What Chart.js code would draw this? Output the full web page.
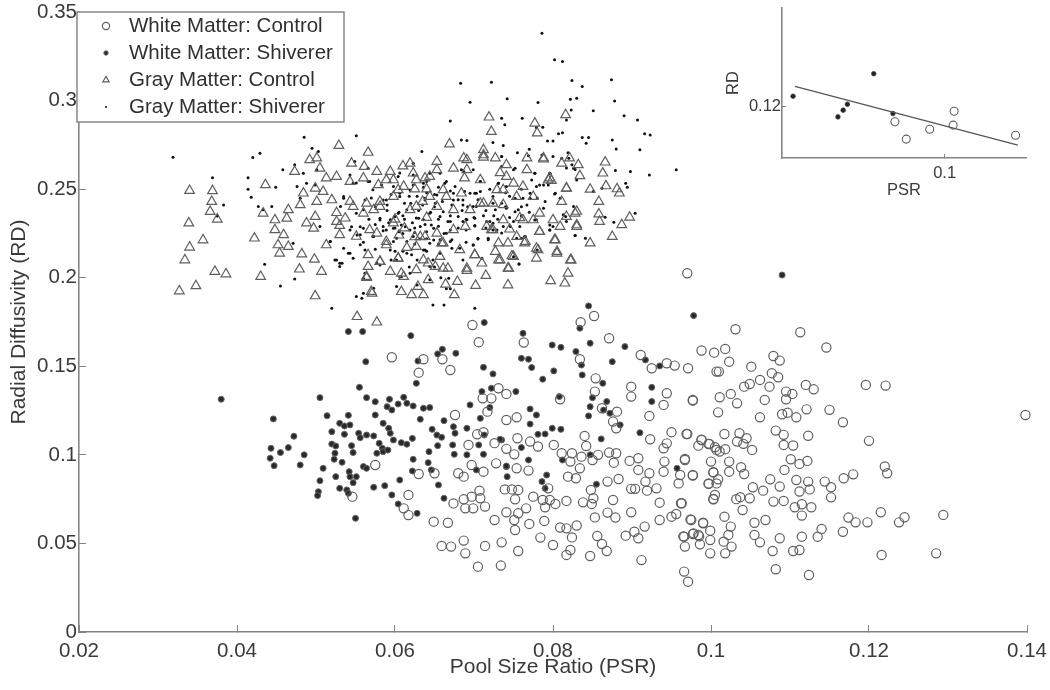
<!DOCTYPE html>
<html><head><meta charset="utf-8">
<script src="https://cdn.jsdelivr.net/npm/chart.js@4/dist/chart.umd.js"></script>
<style>
html,body{margin:0;padding:0;background:#fff;width:1050px;height:690px;overflow:hidden}
canvas{position:absolute;filter:blur(.6px)}
</style></head><body>
<canvas id="main" width="1050" height="690" style="left:0;top:0"></canvas>
<canvas id="inset" width="330" height="210" style="left:720px;top:0"></canvas>
<script>
const seriesNames=["White Matter: Control","White Matter: Shiverer","Gray Matter: Control","Gray Matter: Shiverer"];
const xTicks=[0.02,0.04,0.06,0.08,0.1,0.12,0.14];
const yTicks=[0,0.05,0.1,0.15,0.2,0.25,0.3,0.35];
const whiteControl=[[.0852,.1784],[.0835,.1749],[.0698,.1733],[.0706,.1636],[.0763,.1634],[.0871,.1658],[.0636,.1540],[.0660,.1540],[.0670,.1479],[.0630,.1464],[.0988,.1589],[.1004,.1577],[.0911,.1564],[.0944,.1517],[.0954,.1504],[.0925,.1489],[.0971,.1489],[.0834,.1540],[.1007,.1470],[.0854,.1432],[.0899,.1385],[.0899,.1329],[.0853,.1357],[.0731,.1376],[.0741,.1344],[.0711,.1319],[.0722,.1319],[.0944,.1348],[.0940,.1282],[.0977,.1310],[.0809,.1314],[.0862,.1263],[.0881,.1244],[.0922,.1220],[.0876,.1188],[.0880,.1150],[.0676,.1225],[.0717,.1244],[.0741,.1197],[.0754,.1212],[.0712,.1128],[.0704,.1116],[.0693,.1056],[.0726,.1066],[.0741,.1034],[.0751,.1003],[.0755,.1094],[.0771,.1075],[.0781,.1047],[.0801,.1056],[.0840,.1107],[.0842,.1050],[.0811,.1009],[.0824,.1009],[.0822,.0962],[.0836,.0990],[.0850,.0971],[.0857,.1000],[.0871,.1013],[.0880,.1009],[.0877,.0956],[.0897,.0966],[.0908,.0981],[.0908,.0915],[.0922,.0896],[.0917,.0849],[.0899,.0808],[.0904,.0808],[.0919,.0798],[.0931,.0811],[.0941,.0962],[.0940,.0905],[.0950,.1128],[.0969,.1118],[.0944,.1065],[.0940,.1037],[.0923,.1088],[.0967,.0977],[.0961,.0886],[.0959,.0839],[.0977,.0886],[.0988,.1084],[.0984,.1052],[.0997,.1061],[.1007,.1028],[.1000,.0962],[.1003,.0901],[.0997,.0839],[.1007,.0839],[.1003,.0749],[.0935,.0730],[.0962,.0727],[.0935,.0632],[.0950,.0651],[.0956,.0666],[.0975,.0632],[.0990,.0617],[.0999,.0572],[.0965,.0540],[.0978,.0557],[.0985,.0540],[.0967,.0482],[.0986,.0495],[.0999,.0519],[.0999,.0444],[.0966,.0341],[.0971,.0284],[.0912,.0406],[.0892,.0544],[.0903,.0566],[.0908,.0529],[.0916,.0595],[.0899,.0676],[.0876,.0745],[.0869,.0674],[.0879,.0646],[.0853,.0647],[.0849,.0723],[.0838,.0732],[.0851,.0755],[.0848,.0802],[.0869,.0849],[.0883,.0864],[.0819,.0877],[.0829,.0868],[.0834,.0924],[.0817,.0740],[.0803,.0723],[.0796,.0745],[.0787,.0745],[.0790,.0704],[.0775,.0764],[.0766,.0698],[.0756,.0670],[.0741,.0676],[.0751,.0632],[.0770,.0610],[.0789,.0627],[.0752,.0576],[.0726,.0632],[.0809,.0590],[.0830,.0601],[.0817,.0585],[.0824,.0534],[.0784,.0533],[.0800,.0491],[.0856,.0542],[.0862,.0497],[.0868,.0457],[.0847,.0429],[.0817,.0435],[.0822,.0463],[.0756,.0457],[.0735,.0506],[.0714,.0486],[.0687,.0516],[.0689,.0444],[.0671,.0482],[.0659,.0486],[.0705,.0369],[.0734,.0375],[.0667,.0617],[.0649,.0623],[.0617,.0774],[.0617,.0660],[.0611,.0698],[.0674,.0726],[.0687,.0749],[.0689,.0698],[.0697,.0764],[.0707,.0798],[.0708,.0755],[.0714,.0708],[.0699,.0698],[.0680,.0896],[.0687,.0877],[.0630,.0892],[.0650,.0896],[.0697,.0943],[.0712,.0905],[.0728,.0952],[.0754,.0924],[.0769,.0911],[.0739,.0805],[.0748,.0805],[.0756,.0802],[.0752,.0749],[.0794,.0811],[.0970,.2025],[.1031,.1709],[.1113,.1692],[.1146,.1606],[.1018,.1598],[.1023,.1526],[.1010,.1470],[.1051,.1498],[.1079,.1558],[.1087,.1532],[.1077,.1461],[.1085,.1438],[.1062,.1423],[.1049,.1400],[.1042,.1385],[.1074,.1385],[.1120,.1395],[.1130,.1370],[.1196,.1395],[.1221,.1391],[.1011,.1325],[.1025,.1344],[.1033,.1291],[.0977,.1306],[.1068,.1310],[.1095,.1357],[.1103,.1344],[.1095,.1314],[.1009,.1240],[.1062,.1212],[.1090,.1229],[.1097,.1238],[.1108,.1212],[.1121,.1257],[.1150,.1254],[.1167,.1184],[.1398,.1225],[.0970,.1118],[.1017,.1118],[.1036,.1122],[.1033,.1075],[.1045,.1094],[.1041,.1062],[.1052,.1028],[.1082,.1137],[.1092,.1113],[.1092,.1056],[.1104,.1053],[.1123,.1108],[.1200,.1079],[.0988,.1085],[.0998,.1062],[.1005,.1043],[.1011,.1019],[.1018,.1032],[.0967,.0971],[.1023,.0962],[.1038,.0930],[.1042,.0892],[.1023,.0905],[.1003,.0902],[.0977,.0883],[.1009,.0862],[.0997,.0836],[.1101,.0975],[.1112,.0949],[.1122,.0966],[.1093,.0915],[.1220,.0934],[.1223,.0896],[.1180,.0890],[.1168,.0868],[.1144,.0849],[.1152,.0817],[.1152,.0760],[.1123,.0849],[.1125,.0805],[.1112,.0793],[.1108,.0858],[.1087,.0821],[.1075,.0862],[.1066,.0798],[.1053,.0817],[.1049,.0755],[.1037,.0761],[.1032,.0750],[.1040,.0689],[.1003,.0751],[.1005,.0774],[.0963,.0727],[.1079,.0736],[.1092,.0740],[.1106,.0704],[.1115,.0721],[.1127,.0704],[.1115,.0657],[.1017,.0651],[.0974,.0636],[.0990,.0614],[.0977,.0553],[.0984,.0548],[.0966,.0538],[.1018,.0444],[.1026,.0482],[.1016,.0510],[.1022,.0548],[.1025,.0595],[.1055,.0617],[.1069,.0632],[.1055,.0548],[.1062,.0506],[.1087,.0529],[.1115,.0538],[.1078,.0457],[.1104,.0457],[.1112,.0463],[.1082,.0354],[.1124,.0322],[.1140,.0582],[.1135,.0538],[.1167,.0566],[.1174,.0646],[.1183,.0619],[.1198,.0619],[.1215,.0676],[.1238,.0619],[.1245,.0648],[.1294,.0661],[.1216,.0435],[.1285,.0444],[.0596,.1551],[.0546,.0764],[.0575,.0943]];
const whiteShiverer=[[.0380,.1314],[.0446,.1203],[.0472,.1105],[.0443,.1037],[.0455,.1013],[.0465,.1041],[.0442,.0981],[.0447,.0939],[.0485,.1000],[.0480,.0943],[.0505,.1323],[.0514,.1221],[.0541,.1223],[.0530,.1178],[.0536,.1163],[.0543,.1169],[.0520,.1131],[.0536,.1116],[.0554,.1122],[.0556,.1097],[.0564,.1112],[.0573,.1107],[.0580,.1065],[.0584,.1037],[.0520,.1061],[.0525,.1050],[.0545,.1052],[.0524,.1009],[.0547,.1013],[.0523,.0975],[.0533,.0958],[.0577,.1009],[.0585,.1018],[.0591,.1027],[.0509,.0924],[.0505,.0854],[.0503,.0792],[.0502,.0770],[.0525,.0877],[.0542,.0905],[.0560,.0934],[.0564,.0924],[.0543,.0877],[.0551,.0877],[.0547,.0843],[.0530,.0811],[.0539,.0802],[.0541,.0783],[.0550,.0642],[.0555,.1381],[.0564,.1323],[.0575,.1300],[.0593,.1314],[.0590,.1272],[.0596,.1253],[.0604,.1287],[.0611,.1325],[.0615,.1291],[.0623,.1276],[.0636,.1263],[.0644,.1267],[.0575,.1225],[.0632,.1201],[.0585,.1178],[.0592,.1150],[.0594,.1122],[.0598,.1084],[.0608,.1069],[.0615,.1060],[.0622,.1093],[.0541,.1696],[.0559,.1696],[.0620,.1673],[.0563,.1526],[.0629,.1530],[.0627,.1404],[.0654,.1570],[.0660,.1596],[.0677,.1573],[.0713,.1747],[.0712,.1494],[.0724,.1457],[.0695,.1282],[.0662,.1193],[.0708,.1206],[.0720,.1267],[.0710,.1357],[.0722,.1376],[.0753,.1357],[.0647,.1144],[.0653,.1112],[.0659,.1099],[.0654,.1052],[.0643,.1018],[.0642,.0956],[.0623,.0975],[.0622,.0909],[.0646,.0915],[.0655,.0830],[.0606,.0858],[.0587,.0826],[.0573,.0817],[.0596,.0774],[.0604,.0723],[.0628,.0670],[.0662,.0755],[.0673,.1056],[.0674,.1159],[.0676,.1122],[.0675,.1003],[.0691,.1150],[.0691,.1000],[.0706,.1056],[.0712,.1003],[.0703,.0915],[.0713,.1112],[.0735,.1084],[.0741,.0933],[.0845,.1841],[.0978,.1786],[.0834,.1715],[.0762,.1686],[.0799,.1620],[.0810,.1607],[.0847,.1630],[.0891,.1611],[.0829,.1583],[.0760,.1545],[.0769,.1540],[.0875,.1526],[.0917,.1536],[.0935,.1502],[.0773,.1493],[.0836,.1507],[.0801,.1474],[.0837,.1451],[.0787,.1427],[.0863,.1404],[.0925,.1381],[.0925,.1301],[.0808,.1329],[.0850,.1323],[.0847,.1272],[.0868,.1301],[.0864,.1253],[.0872,.1235],[.0845,.1220],[.0885,.1169],[.0771,.1259],[.0779,.1225],[.0771,.1174],[.0799,.1150],[.0810,.1144],[.0790,.1118],[.0781,.1116],[.0910,.1125],[.0861,.1090],[.0733,.1088],[.0760,.1041],[.0769,.0971],[.0812,.0971],[.0847,.1000],[.0741,.0937],[.0742,.0877],[.0792,.0886],[.0786,.0849],[.0790,.0811],[.0855,.0834],[.0957,.0924],[.1090,.2015]];
const grayControl=[[.0340,.2492],[.0369,.2490],[.0368,.2430],[.0366,.2373],[.0375,.2330],[.0339,.2308],[.0357,.2213],[.0340,.2172],[.0334,.2100],[.0372,.2035],[.0386,.2021],[.0348,.1954],[.0327,.1925],[.0436,.2524],[.0422,.2223],[.0430,.2006],[.0499,.1897],[.0529,.2746],[.0566,.2707],[.0492,.2665],[.0501,.2675],[.0505,.2618],[.0513,.2562],[.0473,.2599],[.0484,.2477],[.0499,.2505],[.0509,.2486],[.0501,.2430],[.0480,.2411],[.0465,.2383],[.0433,.2364],[.0448,.2326],[.0463,.2335],[.0448,.2270],[.0459,.2242],[.0452,.2185],[.0465,.2176],[.0454,.2138],[.0482,.2134],[.0498,.2104],[.0479,.2048],[.0507,.2035],[.0488,.2308],[.0499,.2345],[.0497,.2279],[.0513,.2185],[.0526,.2317],[.0537,.2336],[.0520,.2439],[.0545,.2646],[.0543,.2543],[.0561,.2627],[.0577,.2599],[.0594,.2599],[.0598,.2552],[.0579,.2524],[.0547,.2402],[.0530,.2242],[.0551,.2233],[.0566,.2129],[.0581,.2091],[.0604,.2110],[.0564,.2006],[.0571,.1912],[.0608,.1921],[.0621,.1903],[.0594,.2035],[.0611,.2006],[.0589,.2185],[.0573,.2383],[.0564,.2420],[.0581,.2430],[.0598,.2308],[.0577,.2251],[.0611,.2515],[.0598,.2458],[.0619,.2646],[.0623,.2590],[.0627,.2402],[.0627,.2176],[.0552,.1780],[.0577,.1749],[.0719,.2906],[.0722,.2825],[.0669,.2754],[.0777,.2872],[.0780,.2816],[.0816,.2919],[.0712,.2722],[.0712,.2680],[.0727,.2675],[.0653,.2656],[.0687,.2675],[.0767,.2675],[.0788,.2669],[.0821,.2675],[.0866,.2652],[.0863,.2590],[.0834,.2575],[.0798,.2548],[.0817,.2505],[.0847,.2499],[.0867,.2518],[.0881,.2501],[.0884,.2477],[.0858,.2430],[.0811,.2430],[.0830,.2374],[.0858,.2359],[.0859,.2317],[.0887,.2299],[.0897,.2341],[.0875,.2232],[.0847,.2195],[.0802,.2214],[.0783,.2260],[.0805,.2138],[.0823,.2100],[.0779,.2166],[.0779,.2110],[.0819,.2025],[.0797,.1982],[.0815,.1969],[.0743,.1959],[.0744,.2053],[.0715,.2012],[.0702,.1956],[.0675,.1903],[.0679,.1978],[.0664,.1963],[.0691,.2040],[.0667,.2053],[.0651,.2063],[.0731,.2100],[.0750,.2119],[.0701,.2129],[.0710,.2082],[.0636,.2100],[.0636,.1903],[.0642,.1988],[.0657,.2119],[.0682,.2157],[.0731,.2195],[.0743,.2195],[.0722,.2270],[.0689,.2289],[.0674,.2270],[.0653,.2251],[.0638,.2232],[.0661,.2195],[.0764,.2195],[.0754,.2232],[.0809,.2289],[.0817,.2345],[.0800,.2326],[.0830,.2289],[.0783,.2364],[.0758,.2338],[.0737,.2411],[.0712,.2420],[.0684,.2477],[.0665,.2458],[.0644,.2458],[.0638,.2562],[.0653,.2609],[.0674,.2618],[.0691,.2609],[.0708,.2552],[.0733,.2592],[.0750,.2533],[.0767,.2609],[.0794,.2552],[.0754,.2458],[.0729,.2496],[.0775,.2458],[.0741,.2571],[.0811,.2646],[.0674,.2383],[.0695,.2383],[.0653,.2402],[.0737,.2326],[.0716,.2289],[.0775,.2326],[.0600,.2330],[.0612,.2280],[.0625,.2230],[.0605,.2240],[.0615,.2170],[.0640,.2340],[.0635,.2430],[.0625,.2500],[.0640,.2500],[.0610,.2630],[.0712,.2693],[.0741,.2637],[.0788,.2675],[.0832,.2637],[.0817,.2505],[.0796,.2562],[.0762,.2515],[.0724,.2420],[.0737,.2496],[.0691,.2665],[.0688,.2562],[.0708,.2420],[.0828,.2364],[.0830,.2298],[.0783,.2260],[.0803,.2213],[.0765,.2204],[.0724,.2270],[.0745,.2274],[.0762,.2326],[.0727,.2148],[.0748,.2123],[.0701,.2129],[.0733,.2100],[.0781,.2157],[.0805,.2148],[.0822,.2100],[.0743,.2053],[.0691,.2053],[.0526,.2367],[.0530,.2294],[.0581,.2402],[.0560,.2364],[.0619,.2383],[.0661,.2496],[.0543,.2430],[.0568,.2270],[.0589,.2204],[.0632,.2231],[.0659,.2195],[.0604,.2110],[.0566,.2063],[.0581,.2091],[.0642,.2082],[.0627,.2044],[.0661,.2053],[.0608,.2025],[.0564,.2000],[.0629,.1950],[.0570,.1922],[.0604,.2496],[.0627,.2552],[.0560,.2562],[.0589,.2552],[.0644,.2571],[.0526,.2571]];
const grayShiverer=[[.0786,.3380],[.0802,.3230],[.0812,.3220],[.0824,.3113],[.0837,.3079],[.0874,.3117],[.0878,.2998],[.0822,.3008],[.0830,.3013],[.0851,.2942],[.0890,.2914],[.0907,.2891],[.0683,.3098],[.0722,.3104],[.0695,.2991],[.0742,.3010],[.0781,.2989],[.0670,.2885],[.0735,.2900],[.0739,.2863],[.0761,.2900],[.0823,.2947],[.0817,.2891],[.0779,.2848],[.0787,.2850],[.0807,.2812],[.0812,.2819],[.0793,.2772],[.0800,.2772],[.0837,.2791],[.0845,.2791],[.0842,.2759],[.0875,.2778],[.0916,.2812],[.0923,.2806],[.0880,.2727],[.0910,.2722],[.0684,.2778],[.0691,.2774],[.0724,.2763],[.0737,.2746],[.0770,.2725],[.0819,.2706],[.0634,.2712],[.0956,.2609],[.0922,.2580],[.0898,.2599],[.0879,.2605],[.0892,.2533],[.0894,.2511],[.0862,.2505],[.0851,.2486],[.0802,.2473],[.0866,.2341],[.0877,.2313],[.0904,.2364],[.0828,.2238],[.0841,.2223],[.0757,.2078],[.0718,.2214],[.0705,.2219],[.0699,.2185],[.0672,.2166],[.0648,.1846],[.0662,.1846],[.0701,.1828],[.0670,.1937],[.0824,.2637],[.0817,.2620],[.0828,.2611],[.0811,.2675],[.0800,.2684],[.0779,.2515],[.0788,.2524],[.0794,.2524],[.0796,.2590],[.0777,.2590],[.0752,.2618],[.0735,.2684],[.0755,.2706],[.0762,.2449],[.0771,.2477],[.0741,.2515],[.0731,.2533],[.0708,.2543],[.0695,.2477],[.0703,.2477],[.0686,.2439],[.0674,.2477],[.0663,.2533],[.0657,.2590],[.0644,.2590],[.0636,.2533],[.0651,.2420],[.0638,.2439],[.0687,.2599],[.0672,.2411],[.0699,.2402],[.0724,.2420],[.0752,.2373],[.0767,.2411],[.0779,.2327],[.0813,.2355],[.0817,.2317],[.0800,.2289],[.0796,.2270],[.0764,.2232],[.0754,.2223],[.0729,.2270],[.0720,.2317],[.0691,.2327],[.0701,.2295],[.0667,.2317],[.0657,.2345],[.0646,.2298],[.0636,.2327],[.0644,.2195],[.0657,.2214],[.0672,.2214],[.0682,.2166],[.0710,.2110],[.0686,.2100],[.0665,.1937],[.0648,.2100],[.0638,.2157],[.0735,.2253],[.0746,.2289],[.0758,.2289],[.0319,.2680],[.0369,.2565],[.0383,.2411],[.0420,.2678],[.0429,.2703],[.0414,.2565],[.0414,.2499],[.0418,.2454],[.0449,.2511],[.0485,.2793],[.0551,.2801],[.0495,.2731],[.0503,.2712],[.0458,.2609],[.0473,.2637],[.0484,.2590],[.0488,.2533],[.0476,.2515],[.0499,.2524],[.0501,.2609],[.0480,.2449],[.0427,.2402],[.0433,.2383],[.0444,.2402],[.0375,.2349],[.0435,.2076],[.0455,.1953],[.0473,.1993],[.0471,.2195],[.0505,.2289],[.0518,.2204],[.0524,.2100],[.0533,.2082],[.0530,.2063],[.0541,.2138],[.0547,.2110],[.0552,.2241],[.0545,.2288],[.0535,.2458],[.0551,.2534],[.0568,.2543],[.0566,.2618],[.0549,.2656],[.0585,.2439],[.0581,.2336],[.0594,.2327],[.0604,.2364],[.0615,.2383],[.0613,.2288],[.0589,.2270],[.0556,.2288],[.0606,.2458],[.0623,.2646],[.0606,.2591],[.0619,.2495],[.0598,.2515],[.0573,.2232],[.0560,.2383],[.0551,.1894],[.0558,.1884],[.0520,.1827],[.0562,.2025],[.0606,.2006],[.0619,.2025],[.0577,.2082],[.0556,.2186],[.0623,.2232],[.0627,.2337],[.0598,.2205],[.0615,.2138],[.0625,.2280],[.0632,.2220],[.0640,.2150],[.0650,.2060],[.0658,.2000],[.0628,.2100],[.0618,.2060],[.0600,.2150],[.0610,.2250],[.0620,.2420],[.0630,.2380],[.0638,.2300],[.0645,.2370],[.0655,.2290],[.0662,.2250],[.0670,.2350],[.0680,.2280],[.0690,.2200],[.0685,.2380],[.0700,.2340],[.0705,.2440],[.0715,.2380],[.0725,.2350],[.0740,.2400],[.0745,.2460],[.0760,.2400],[.0660,.2430],[.0650,.2470],[.0640,.2480],[.0628,.2460],[.0610,.2350],[.0600,.2280],[.0547,.2533],[.0566,.2543],[.0583,.2524],[.0623,.2524],[.0640,.2543],[.0665,.2543],[.0676,.2515],[.0535,.2449],[.0562,.2439],[.0589,.2439],[.0638,.2449],[.0653,.2467],[.0674,.2439],[.0531,.2402],[.0551,.2364],[.0581,.2326],[.0600,.2345],[.0630,.2336],[.0644,.2364],[.0661,.2373],[.0670,.2317],[.0680,.2345],[.0585,.2289],[.0598,.2279],[.0608,.2298],[.0619,.2270],[.0632,.2289],[.0649,.2279],[.0665,.2251],[.0543,.2270],[.0560,.2279],[.0572,.2232],[.0556,.2242],[.0602,.2223],[.0615,.2204],[.0649,.2213],[.0670,.2204],[.0518,.2204],[.0535,.2166],[.0543,.2138],[.0526,.2100],[.0530,.2082],[.0562,.2157],[.0621,.2129],[.0581,.2072],[.0560,.1997],[.0608,.2006],[.0668,.1997],[.0644,.2063],[.0602,.2100],[.0594,.2157],[.0636,.2157],[.0657,.2138],[.0628,.1959],[.0573,.1940],[.0560,.1912],[.0602,.1950],[.0644,.1988],[.0604,.2571],[.0623,.2580],[.0543,.2580],[.0572,.2496],[.0606,.2477],[.0735,.2684],[.0769,.2688],[.0786,.2693],[.0820,.2675],[.0826,.2618],[.0830,.2552],[.0735,.2628],[.0684,.2609],[.0699,.2609],[.0777,.2590],[.0796,.2590],[.0750,.2609],[.0708,.2543],[.0731,.2533],[.0773,.2552],[.0783,.2524],[.0803,.2477],[.0688,.2486],[.0701,.2477],[.0708,.2486],[.0686,.2411],[.0703,.2402],[.0724,.2458],[.0727,.2383],[.0741,.2392],[.0756,.2383],[.0752,.2449],[.0771,.2449],[.0788,.2392],[.0809,.2449],[.0826,.2402],[.0701,.2336],[.0716,.2317],[.0724,.2308],[.0750,.2317],[.0777,.2326],[.0796,.2270],[.0765,.2232],[.0760,.2223],[.0828,.2238],[.0701,.2292],[.0686,.2317],[.0718,.2223],[.0705,.2223],[.0699,.2185],[.0737,.2289],[.0724,.2270],[.0750,.2119],[.0757,.2078],[.0816,.2345],[.0796,.2298],[.0780,.2157],[.0690,.2270],[.0575,.2400],[.0590,.2380],[.0605,.2370],[.0612,.2330],[.0592,.2310],[.0575,.2300],[.0567,.2330],[.0622,.2310],[.0585,.2265],[.0605,.2260],[.0625,.2255],[.0640,.2260],[.0655,.2330],[.0650,.2400],[.0635,.2410],[.0612,.2420],[.0590,.2410],[.0570,.2450],[.0595,.2470],[.0618,.2460],[.0636,.2510],[.0655,.2510],[.0670,.2490],[.0680,.2440],[.0692,.2400],[.0712,.2350],[.0730,.2330],[.0745,.2340],[.0760,.2350],[.0770,.2370],[.0735,.2420],[.0720,.2500],[.0740,.2480],[.0760,.2500],[.0780,.2450],[.0790,.2430],[.0715,.2280],[.0690,.2330],[.0670,.2270],[.0655,.2190],[.0640,.2220],[.0625,.2190],[.0610,.2150],[.0595,.2100],[.0575,.2160],[.0560,.2200]];
const insetControl=[[.0847,.1140],[.0882,.1073],[.0954,.1111],[.1026,.1127],[.1029,.1181],[.1218,.1088]];
const insetShiverer=[[.0534,.1239],[.0782,.1326],[.0672,.1159],[.0688,.1185],[.0701,.1208],[.0841,.1172]];
const insetFit=[[.054,.1277],[.1225,.105]];

const toPts=a=>a.map(p=>({x:p[0],y:p[1]}));
const axisGray='#858585', textCol='#3a3a3a', markGray='#5f5f5f';
const fontName='"Liberation Sans", Arial, sans-serif';
Chart.defaults.font.family=fontName;
Chart.defaults.color=textCol;
Chart.defaults.animation=false;
Chart.defaults.responsive=false;

const styles=[
 {pointStyle:'circle',radius:4.6,backgroundColor:'rgba(0,0,0,0)',borderColor:markGray,borderWidth:1.2},
 {pointStyle:'circle',radius:3,backgroundColor:'#2a2a2a',borderColor:'#666',borderWidth:1},
 {pointStyle:'triangle',radius:5.6,backgroundColor:'rgba(0,0,0,0)',borderColor:markGray,borderWidth:1.2},
 {pointStyle:'circle',radius:1.5,backgroundColor:'#111',borderColor:'#111',borderWidth:0}
];
const mk=(label,data,s)=>({label,data:toPts(data),clip:false,pointStyle:s.pointStyle,pointRadius:s.radius,pointBackgroundColor:s.backgroundColor,pointBorderColor:s.borderColor,pointBorderWidth:s.borderWidth,showLine:false});

const legendBox={id:'legendBox',afterDraw(c){
 const ctx=c.ctx;ctx.save();
 ctx.fillStyle='#fff';ctx.strokeStyle='#808080';ctx.lineWidth=1.4;
 ctx.fillRect(77,12,267,110);ctx.strokeRect(77,12,267,110);
 ctx.font='20.5px '+fontName;ctx.textBaseline='middle';ctx.textAlign='left';
 seriesNames.forEach((n,i)=>{
  const y=26+i*27,s=styles[i];
  ctx.fillStyle=s.backgroundColor;ctx.strokeStyle=s.borderColor;ctx.lineWidth=s.borderWidth||0.01;
  const o={pointStyle:s.pointStyle,radius:i==1?2.2:(i==3?1:3.6),rotation:0,borderWidth:s.borderWidth};
  Chart.helpers.drawPoint(ctx,o,106,y);
  ctx.fillStyle='#303030';ctx.fillText(n,129,y);
 });
 ctx.restore();
}};
const scale=(min,max,ticks,title,w,h,opts)=>({
 type:'linear',min,max,
 afterBuildTicks:s=>{s.ticks=ticks.map(v=>({value:v}))},
 ticks:{callback:v=>String(+v.toFixed(3)),font:{size:opts.size},padding:opts.pad,maxRotation:0,autoSkip:false,color:textCol},
 grid:{drawOnChartArea:false,drawTicks:true,tickLength:-opts.tick,color:axisGray,lineWidth:1},
 border:{color:axisGray,width:1.6},
 title:{display:true,text:title,font:{size:opts.tsize},padding:opts.tpad,color:textCol},
 afterFit:s=>{if(w)s.width=w;if(h)s.height=h;s.paddingTop=0;s.paddingBottom=0;s.paddingLeft=0;s.paddingRight=0;}
});

new Chart(document.getElementById('main'),{
 type:'scatter',
 data:{datasets:[
  mk(seriesNames[0],whiteControl,styles[0]),
  mk(seriesNames[1],whiteShiverer,styles[1]),
  mk(seriesNames[2],grayControl,styles[2]),
  mk(seriesNames[3],grayShiverer,styles[3])
 ]},
 options:{
  layout:{padding:{top:12,right:23,left:0,bottom:0}},
  plugins:{legend:{display:false},tooltip:{enabled:false}},
  scales:{
   x:scale(.02,.14,xTicks,'Pool Size Ratio (PSR)',0,58,{size:20.5,pad:14,tick:7,tsize:21,tpad:{top:0,bottom:10}}),
   y:scale(0,.35,yTicks,'Radial Diffusivity (RD)',79,0,{size:20.5,pad:9,tick:7,tsize:21,tpad:{top:7,bottom:0}})
  }
 },
 plugins:[legendBox]
});
new Chart(document.getElementById('inset'),{
 type:'scatter',
 data:{datasets:[
  {label:'Fit',data:toPts(insetFit),showLine:true,pointRadius:0,borderColor:'#555',borderWidth:1.2,fill:false},
  {label:seriesNames[0],data:toPts(insetControl),pointStyle:'circle',pointRadius:4,pointBackgroundColor:'rgba(0,0,0,0)',pointBorderColor:markGray,pointBorderWidth:1.1},
  {label:seriesNames[1],data:toPts(insetShiverer),pointStyle:'circle',pointRadius:2.3,pointBackgroundColor:'#222',pointBorderColor:'#444',pointBorderWidth:.8}
 ]},
 options:{
  layout:{padding:{top:8,right:24,left:0,bottom:0}},
  plugins:{legend:{display:false},tooltip:{enabled:false}},
  scales:{
   x:scale(.05,.125,[.1],'PSR',0,52,{size:16.5,pad:10,tick:4,tsize:16.5,tpad:{top:0,bottom:10}}),
   y:scale(.1,.158,[.12],'RD',62,0,{size:16.5,pad:5,tick:4,tsize:16.5,tpad:{top:4,bottom:0}})
  }
 }
});
</script>
</body></html>
